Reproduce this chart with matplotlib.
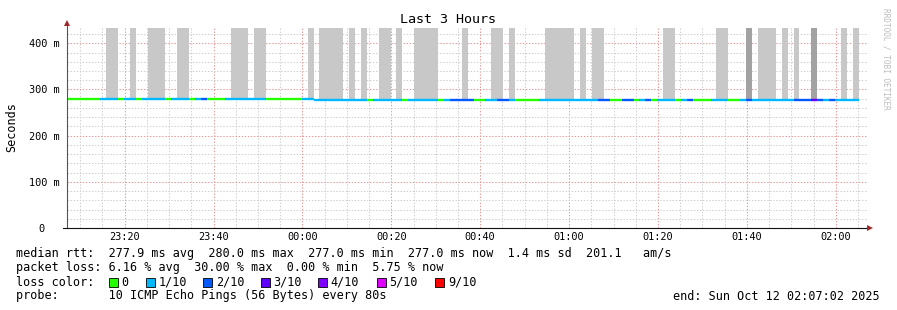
import matplotlib
matplotlib.use("Agg")
import numpy as np
import matplotlib.pyplot as plt
from matplotlib.patches import Rectangle
from matplotlib.transforms import ScaledTranslation

plt.rcParams['font.family'] = ['DejaVu Sans Mono']
plt.rcParams['lines.scale_dashes'] = False

W, H = 897, 310

# time axis in minutes after 23:00; one sample every 80 s
sample_start = 6.5            # 23:06:30
sample_step = 80 / 60.0
view_start = 7 + 2 / 60.0     # 23:07:02
view_end = 187 + 2 / 60.0     # 02:07:02

tick_minutes = [20, 40, 60, 80, 100, 120, 140, 160, 180]
tick_labels = ['23:20', '23:40', '00:00', '00:20', '00:40',
               '01:00', '01:20', '01:40', '02:00']

y_ticks = [0, 0.1, 0.2, 0.3, 0.4]
y_labels = ['0', '100 m', '200 m', '300 m', '400 m']

# median rtt per sample (seconds)
median_rtt = [0.280] * 41 + [0.2785] + [0.277] * 92

# lost pings (out of 10) per sample
loss = [0, 0, 0, 0, 0, 0, 1, 1, 1, 0,
        1, 1, 0, 1, 1, 1, 1, 0, 1, 1,
        1, 0, 1, 2, 0, 0, 0, 1, 1, 1,
        1, 1, 1, 1, 0, 0, 0, 0, 0, 0,
        1, 1, 1, 1, 1, 1, 1, 1, 1, 1,
        1, 0, 1, 1, 1, 1, 1, 0, 1, 1,
        1, 1, 1, 0, 1, 2, 2, 2, 2, 0,
        0, 1, 1, 2, 2, 1, 0, 0, 0, 0,
        1, 1, 1, 1, 1, 1, 1, 1, 1, 1,
        2, 2, 0, 0, 2, 2, 0, 1, 2, 0,
        1, 1, 1, 0, 1, 2, 0, 0, 0, 1,
        1, 1, 0, 0, 1, 2, 1, 1, 1, 1,
        1, 1, 1, 2, 2, 2, 3, 2, 1, 2,
        1, 1, 1, 1]

# smoke above the median: 0 none, 1 light, 2 dense
smoke = [0, 0, 0, 0, 0, 0, 0, 1, 1, 0,
         0, 1, 0, 0, 1, 1, 1, 0, 0, 1,
         1, 0, 0, 0, 0, 0, 0, 0, 1, 1,
         1, 0, 1, 1, 0, 0, 0, 0, 0, 0,
         0, 1, 0, 1, 1, 1, 1, 0, 1, 0,
         1, 0, 0, 1, 1, 0, 1, 0, 0, 1,
         1, 1, 1, 0, 0, 0, 0, 1, 0, 0,
         0, 0, 1, 1, 0, 1, 0, 0, 0, 0,
         0, 1, 1, 1, 1, 1, 0, 1, 0, 1,
         1, 0, 0, 0, 0, 0, 0, 0, 0, 0,
         0, 1, 1, 0, 0, 0, 0, 0, 0, 0,
         1, 1, 0, 0, 0, 2, 0, 1, 1, 1,
         0, 1, 0, 1, 0, 0, 2, 0, 0, 0,
         0, 1, 0, 1]
smoke_top = 0.433
smoke_colors = {1: '#c8c8c8', 2: '#a2a2a2'}

loss_colors = ['#26ff00', '#00b8ff', '#0059ff', '#5e00ff',
               '#7e00ff', '#dd00ff', '#ff0000']
loss_labels = ['0', '1/10', '2/10', '3/10', '4/10', '5/10', '9/10']
loss_bins = {0: 0, 1: 1, 2: 2, 3: 3, 4: 4, 5: 5, 9: 6}

stats = [
    'median rtt:  277.9 ms avg  280.0 ms max  277.0 ms min  277.0 ms now  1.4 ms sd  201.1   am/s',
    'packet loss: 6.16 % avg  30.00 % max  0.00 % min  5.75 % now',
]
probe = 'probe:       10 ICMP Echo Pings (56 Bytes) every 80s'
end_text = 'end: Sun Oct 12 02:07:02 2025'

fig = plt.figure(figsize=(W / 100, H / 100), dpi=100)
fig.patch.set_facecolor('white')
x0, x1, y_bot, y_top = 67, 867, 228, 26.7
ax = fig.add_axes([x0 / W, 1 - y_bot / H, (x1 - x0) / W, (y_bot - y_top) / H])
ax.set_xlim(view_start, view_end)
ax.set_ylim(0, 0.436)

med = np.array(median_rtt)
lefts = sample_start + np.arange(len(med)) * sample_step
centers = lefts + sample_step / 2
sm = np.array(smoke)

for level, col in smoke_colors.items():
    m = sm == level
    ax.bar(centers[m], smoke_top - med[m], bottom=med[m], width=sample_step,
           color=col, linewidth=0, zorder=2)

seg_colors = [loss_colors[loss_bins[v]] for v in loss]
ax.hlines(med, lefts, lefts + sample_step, colors=seg_colors,
          linewidth=1.7, capstyle='butt', zorder=3)

# grid
ax.set_xticks(tick_minutes)
ax.set_xticklabels(tick_labels)
ax.set_xticks(np.arange(10, 186, 5), minor=True)
ax.set_yticks(y_ticks)
ax.set_yticklabels(y_labels)
ax.set_yticks(np.arange(0.02, 0.43, 0.02), minor=True)
ax.grid(which='minor', color='#cfcfcf', linestyle=(0, (1, 1.2)), linewidth=0.75)
ax.grid(which='major', color='#e89a9a', linestyle=(0, (1, 1.2)), linewidth=0.75)
ax.set_axisbelow(True)
ax.tick_params(which='both', length=0, labelsize=7.4)
ax.tick_params(axis='x', pad=3.2)
ax.tick_params(axis='y', pad=5.6)
zero_lbl = ax.get_yticklabels()[0]
zero_lbl.set_transform(zero_lbl.get_transform()
                       + ScaledTranslation(-15 / 100, 0, fig.dpi_scale_trans))
for s in ax.spines.values():
    s.set_visible(False)

# axes with arrows
ax.plot([0, 0], [0, 1.018], transform=ax.transAxes, color='#555555',
        lw=0.8, clip_on=False, zorder=4)
ax.plot([-0.005, 1.002], [0, 0], transform=ax.transAxes, color='#111111',
        lw=0.8, clip_on=False, zorder=4)
ax.plot([0], [1.02], marker='^', ms=4.5, color='#a02828', mew=0,
        transform=ax.transAxes, clip_on=False, zorder=5)
ax.plot([1.004], [0], marker='>', ms=4.5, color='#a02828', mew=0,
        transform=ax.transAxes, clip_on=False, zorder=5)


def fx(px):
    return px / W


def fy(py):
    return 1 - py / H


fig.text(fx(448), fy(19.5), 'Last 3 Hours', ha='center', va='center', fontsize=9.6)
fig.text(fx(11.5), fy(127), 'Seconds', rotation=90, ha='center', va='center',
         fontsize=8.5)
fig.text(fx(886), fy(59), 'RRDTOOL / TOBI OETIKER', rotation=270, ha='center',
         va='center', fontsize=5.6, color='#bdbdbd')

fig.text(fx(16), fy(253.5), stats[0], ha='left', va='center', fontsize=8.5)
fig.text(fx(16), fy(267.8), stats[1], ha='left', va='center', fontsize=8.5)
fig.text(fx(16), fy(282), 'loss color:', ha='left', va='center', fontsize=8.5)
box_x = [108.5, 146, 203.3, 260.7, 318, 376.7, 435.3]
for bx, col, lab in zip(box_x, loss_colors, loss_labels):
    fig.add_artist(Rectangle((fx(bx), fy(286.5)), 9 / W, 9 / H,
                             transform=fig.transFigure, facecolor=col,
                             edgecolor='black', linewidth=0.6))
    fig.text(fx(bx + 12.5), fy(282), lab, ha='left', va='center', fontsize=8.5)
fig.text(fx(16), fy(296), probe, ha='left', va='center', fontsize=8.5)
fig.text(fx(880), fy(296), end_text, ha='right', va='center', fontsize=8.5)

fig.savefig('out.png', dpi=100, facecolor='white')
